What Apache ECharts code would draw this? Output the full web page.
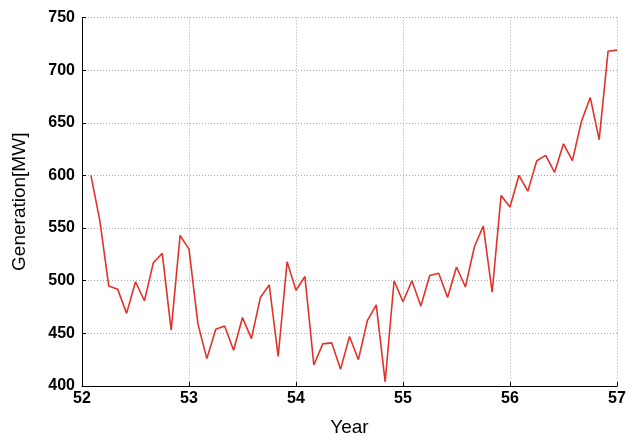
<!DOCTYPE html>
<html>
<head>
<meta charset="utf-8">
<script src="https://cdn.jsdelivr.net/npm/echarts@6/dist/echarts.min.js"></script>
<style>
html,body{margin:0;padding:0;background:#fff;}
#chart{width:634px;height:438px;}
</style>
</head>
<body>
<div id="chart"></div>
<script>
// Monthly generation values, months after start of year 52 (month 1 .. 60)
var startYear = 52;
var generation = [
  600, 557, 495, 492, 469, 499, 481, 517, 526, 453, 543, 530,
  459, 426, 454, 457, 434, 465, 445, 484, 496, 428, 518, 491,
  504, 420, 440, 441, 416, 447, 425, 462, 477, 404, 500, 480,
  500, 476, 505, 507, 484, 513, 494, 532, 552, 489, 581, 570,
  600, 585, 614, 619, 603, 630, 614, 651, 674, 634, 718, 719
];
var xTicks = [52, 53, 54, 55, 56, 57];
var yTicks = [400, 450, 500, 550, 600, 650, 700, 750];

var points = generation.map(function (v, i) {
  return [startYear + (i + 1) / 12, v];
});

var chart = echarts.init(document.getElementById('chart'), null, {renderer: 'canvas'});
var labelFont = {color: '#000', fontFamily: 'Liberation Sans', fontWeight: 'bold', fontSize: 16};
chart.setOption({
  animation: false,
  backgroundColor: '#fff',
  grid: {left: 82, right: 17, top: 17.5, bottom: 52, containLabel: false, outerBoundsMode: 'none'},
  xAxis: {
    type: 'value',
    min: xTicks[0], max: xTicks[xTicks.length - 1], interval: 1,
    name: 'Year', nameLocation: 'middle', nameGap: 32,
    nameTextStyle: {color: '#000', fontFamily: 'Liberation Sans', fontSize: 19},
    axisLine: {show: true, onZero: false, lineStyle: {color: '#000', width: 1}},
    axisTick: {show: true, inside: true, length: 4, lineStyle: {color: '#000'}},
    axisLabel: Object.assign({margin: 5}, labelFont),
    splitLine: {show: true, lineStyle: {color: '#aaa', type: [1, 2], width: 1}}
  },
  yAxis: {
    type: 'value',
    min: yTicks[0], max: yTicks[yTicks.length - 1], interval: 50,
    name: 'Generation[MW]', nameLocation: 'middle', nameGap: 53, nameRotate: 90,
    nameTextStyle: {color: '#000', fontFamily: 'Liberation Sans', fontSize: 19},
    axisLine: {show: true, onZero: false, lineStyle: {color: '#000', width: 1}},
    axisTick: {show: true, inside: true, length: 4, lineStyle: {color: '#000'}},
    axisLabel: Object.assign({margin: 7}, labelFont),
    splitLine: {show: true, lineStyle: {color: '#aaa', type: [1, 2], width: 1}}
  },
  series: [{
    type: 'line',
    data: points,
    showSymbol: false,
    symbol: 'none',
    lineStyle: {color: '#e1332a', width: 1.6},
    itemStyle: {color: '#e1332a'}
  }]
});
</script>
</body>
</html>
